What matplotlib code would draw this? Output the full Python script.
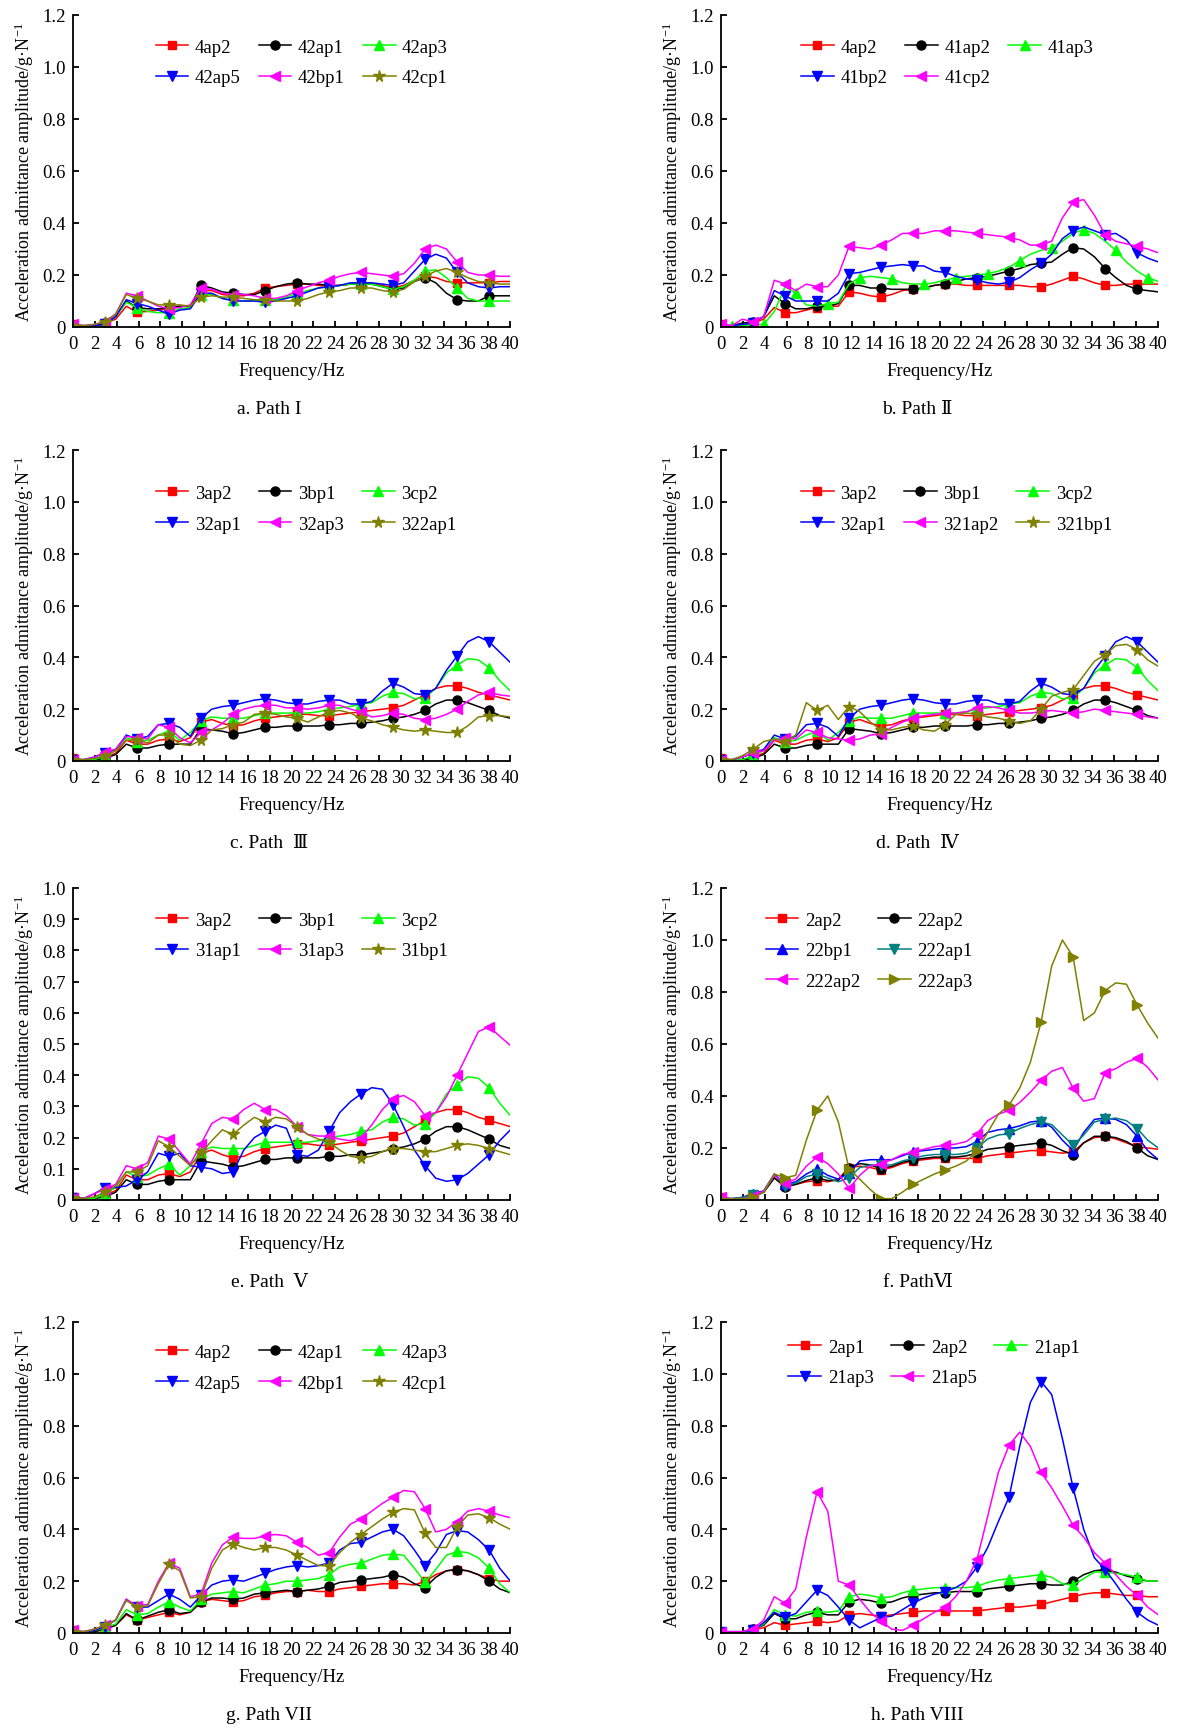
import numpy as np
import matplotlib.pyplot as plt
from matplotlib.ticker import FuncFormatter

plt.rcParams['font.family'] = ['Liberation Serif', 'DejaVu Serif', 'Noto Sans CJK SC']
plt.rcParams['mathtext.fontset'] = 'stix'

# =============================================================================
# DATA  (frequency bins ~0.977 Hz, markers on every third bin)
# =============================================================================

freq = [0.00, 0.98, 1.95, 2.93, 3.91, 4.88, 5.86, 6.84, 7.81, 8.79, 9.77, 10.74,
        11.72, 12.70, 13.67, 14.65, 15.63, 16.60, 17.58, 18.55, 19.53, 20.51,
        21.48, 22.46, 23.44, 24.41, 25.39, 26.37, 27.34, 28.32, 29.30, 30.27,
        31.25, 32.23, 33.20, 34.18, 35.16, 36.13, 37.11, 38.09, 39.06, 40.04]

x_ticks = [0, 2, 4, 6, 8, 10, 12, 14, 16, 18, 20, 22, 24, 26, 28, 30, 32, 34, 36, 38, 40]

# --- a. Path I ---
a_4ap2 = [0.01, 0.005, 0.005, 0.015, 0.03, 0.08,
          0.057, 0.06, 0.065, 0.07, 0.08, 0.08,
          0.14, 0.14, 0.125, 0.12, 0.12, 0.13,
          0.15, 0.155, 0.16, 0.165, 0.165, 0.16,
          0.155, 0.16, 0.165, 0.165, 0.165, 0.16,
          0.15, 0.16, 0.18, 0.195, 0.19, 0.175,
          0.17, 0.17, 0.17, 0.17, 0.175, 0.175]
a_42ap1 = [0.005, 0.005, 0.005, 0.015, 0.04, 0.1,
           0.075, 0.07, 0.07, 0.075, 0.08, 0.08,
           0.16, 0.15, 0.135, 0.13, 0.125, 0.125,
           0.14, 0.155, 0.165, 0.17, 0.165, 0.165,
           0.16, 0.16, 0.165, 0.165, 0.165, 0.155,
           0.145, 0.15, 0.175, 0.19, 0.17, 0.13,
           0.105, 0.1, 0.1, 0.12, 0.12, 0.12]
a_42ap3 = [0.005, 0.005, 0.005, 0.005, 0.04, 0.095,
           0.075, 0.06, 0.055, 0.055, 0.07, 0.075,
           0.125, 0.125, 0.11, 0.105, 0.1, 0.1,
           0.105, 0.105, 0.115, 0.13, 0.14, 0.15,
           0.155, 0.16, 0.165, 0.165, 0.165, 0.155,
           0.145, 0.155, 0.18, 0.215, 0.22, 0.19,
           0.15, 0.11, 0.1, 0.1, 0.1, 0.1]
a_42ap5 = [0.005, 0.005, 0.005, 0.01, 0.04, 0.105,
           0.09, 0.08, 0.065, 0.05, 0.065, 0.07,
           0.13, 0.13, 0.11, 0.1, 0.1, 0.1,
           0.095, 0.1, 0.11, 0.12, 0.135, 0.15,
           0.155, 0.16, 0.17, 0.17, 0.17, 0.165,
           0.16, 0.17, 0.215, 0.26, 0.28, 0.265,
           0.21, 0.17, 0.155, 0.15, 0.155, 0.155]
a_42bp1 = [0.01, 0.005, 0.01, 0.02, 0.05, 0.13,
           0.12, 0.1, 0.08, 0.07, 0.075, 0.085,
           0.15, 0.145, 0.13, 0.125, 0.125, 0.12,
           0.11, 0.11, 0.12, 0.14, 0.155, 0.17,
           0.18, 0.195, 0.205, 0.21, 0.205, 0.2,
           0.195, 0.205, 0.245, 0.3, 0.315, 0.3,
           0.25, 0.21, 0.2, 0.2, 0.195, 0.195]
a_42cp1 = [0.005, 0.005, 0.01, 0.02, 0.05, 0.125,
           0.11, 0.1, 0.085, 0.085, 0.085, 0.08,
           0.115, 0.12, 0.115, 0.115, 0.11, 0.105,
           0.105, 0.1, 0.1, 0.1, 0.11, 0.125,
           0.135, 0.14, 0.15, 0.15, 0.15, 0.14,
           0.135, 0.145, 0.175, 0.195, 0.215, 0.225,
           0.21, 0.19, 0.175, 0.17, 0.165, 0.165]

# --- b. Path II ---
b_4ap2 = [0.01, 0.005, 0.005, 0.015, 0.03, 0.075,
          0.055, 0.055, 0.065, 0.075, 0.08, 0.08,
          0.135, 0.13, 0.12, 0.115, 0.125, 0.14,
          0.145, 0.15, 0.16, 0.165, 0.165, 0.16,
          0.16, 0.16, 0.16, 0.16, 0.16, 0.155,
          0.155, 0.165, 0.18, 0.195, 0.185, 0.17,
          0.16, 0.16, 0.165, 0.165, 0.165, 0.165]
b_41ap2 = [0.005, 0.005, 0.015, 0.02, 0.04, 0.12,
           0.09, 0.07, 0.07, 0.08, 0.08, 0.09,
           0.16, 0.16, 0.15, 0.15, 0.145, 0.145,
           0.145, 0.15, 0.16, 0.165, 0.175, 0.185,
           0.19, 0.195, 0.205, 0.215, 0.225, 0.24,
           0.245, 0.25, 0.28, 0.305, 0.3, 0.27,
           0.225, 0.19, 0.16, 0.145, 0.14, 0.135]
b_41ap3 = [0.005, 0.005, 0.005, 0.01, 0.01, 0.06,
           0.155, 0.13, 0.085, 0.08, 0.09, 0.095,
           0.165, 0.19, 0.195, 0.19, 0.185, 0.17,
           0.165, 0.165, 0.17, 0.18, 0.19, 0.195,
           0.2, 0.205, 0.215, 0.23, 0.255, 0.28,
           0.295, 0.305, 0.33, 0.36, 0.375, 0.36,
           0.33, 0.295, 0.25, 0.215, 0.19, 0.175]
b_41bp2 = [0.005, 0.005, 0.01, 0.015, 0.04, 0.14,
           0.12, 0.1, 0.1, 0.1, 0.1, 0.13,
           0.205, 0.21, 0.22, 0.23, 0.235, 0.24,
           0.235, 0.235, 0.215, 0.21, 0.195, 0.185,
           0.18, 0.17, 0.165, 0.172, 0.19, 0.22,
           0.245, 0.28, 0.34, 0.37, 0.385, 0.37,
           0.355, 0.36, 0.335, 0.285, 0.265, 0.25]
b_41cp2 = [0.01, 0.005, 0.03, 0.02, 0.04, 0.18,
           0.165, 0.14, 0.165, 0.155, 0.155, 0.2,
           0.31, 0.305, 0.3, 0.315, 0.335, 0.36,
           0.36, 0.36, 0.37, 0.37, 0.37, 0.365,
           0.36, 0.355, 0.35, 0.345, 0.335, 0.315,
           0.315, 0.33, 0.42, 0.48, 0.49, 0.43,
           0.355, 0.33, 0.32, 0.31, 0.3, 0.285]

# --- series shared by c. Path III, d. Path IV and e. Path V ---
p3_3ap2 = [0.01, 0.005, 0.005, 0.015, 0.03, 0.08,
           0.065, 0.065, 0.08, 0.085, 0.075, 0.09,
           0.15, 0.16, 0.145, 0.135, 0.14, 0.155,
           0.165, 0.17, 0.175, 0.18, 0.18, 0.175,
           0.175, 0.18, 0.185, 0.19, 0.195, 0.2,
           0.205, 0.215, 0.235, 0.255, 0.28, 0.29,
           0.29, 0.28, 0.265, 0.255, 0.245, 0.235]
p3_3bp1 = [0.005, 0.005, 0.005, 0.01, 0.025, 0.065,
           0.05, 0.05, 0.06, 0.065, 0.065, 0.065,
           0.125, 0.12, 0.115, 0.105, 0.11, 0.12,
           0.13, 0.13, 0.135, 0.135, 0.135, 0.135,
           0.14, 0.14, 0.145, 0.145, 0.15, 0.155,
           0.165, 0.17, 0.18, 0.195, 0.22, 0.235,
           0.235, 0.225, 0.21, 0.195, 0.175, 0.165]
p3_3cp2 = [0.005, 0.005, 0.005, 0.02, 0.04, 0.09,
           0.075, 0.08, 0.1, 0.115, 0.08, 0.11,
           0.155, 0.17, 0.165, 0.165, 0.165, 0.175,
           0.185, 0.185, 0.185, 0.185, 0.185, 0.19,
           0.2, 0.205, 0.21, 0.22, 0.225, 0.25,
           0.265, 0.26, 0.24, 0.245, 0.28, 0.34,
           0.37, 0.395, 0.39, 0.36, 0.31, 0.27]
p3_32ap1 = [0.005, 0.005, 0.015, 0.03, 0.045, 0.1,
            0.085, 0.095, 0.14, 0.145, 0.13, 0.095,
            0.165, 0.2, 0.21, 0.215, 0.225, 0.235,
            0.24, 0.235, 0.225, 0.22, 0.22, 0.23,
            0.235, 0.235, 0.22, 0.22, 0.23, 0.27,
            0.3, 0.285, 0.26, 0.255, 0.28, 0.35,
            0.405, 0.46, 0.48, 0.46, 0.42, 0.38]
c_32ap3 = [0.005, 0.005, 0.015, 0.035, 0.045, 0.095,
           0.09, 0.085, 0.14, 0.13, 0.09, 0.07,
           0.11, 0.12, 0.145, 0.18, 0.2, 0.21,
           0.215, 0.215, 0.205, 0.205, 0.2, 0.205,
           0.215, 0.215, 0.2, 0.19, 0.17, 0.175,
           0.185, 0.18, 0.165, 0.16, 0.165, 0.18,
           0.2, 0.23, 0.255, 0.265, 0.255, 0.25]
c_322ap1 = [0.005, 0.005, 0.01, 0.02, 0.04, 0.08,
            0.08, 0.07, 0.1, 0.1, 0.065, 0.06,
            0.08, 0.12, 0.125, 0.14, 0.15, 0.18,
            0.185, 0.18, 0.17, 0.165, 0.15, 0.17,
            0.19, 0.195, 0.185, 0.165, 0.155, 0.14,
            0.13, 0.12, 0.115, 0.12, 0.115, 0.11,
            0.11, 0.135, 0.17, 0.175, 0.175, 0.17]

# --- d. Path IV ---
d_321ap2 = [0.005, 0.005, 0.015, 0.03, 0.04, 0.08,
            0.09, 0.085, 0.12, 0.11, 0.09, 0.085,
            0.08, 0.085, 0.1, 0.105, 0.13, 0.15,
            0.165, 0.175, 0.18, 0.185, 0.185, 0.19,
            0.205, 0.21, 0.205, 0.195, 0.185, 0.185,
            0.19, 0.195, 0.19, 0.185, 0.19, 0.2,
            0.195, 0.19, 0.185, 0.18, 0.17, 0.165]
d_321bp1 = [0.005, 0.005, 0.02, 0.045, 0.075, 0.085,
            0.075, 0.1, 0.225, 0.195, 0.215, 0.16,
            0.21, 0.19, 0.15, 0.12, 0.12, 0.13,
            0.135, 0.12, 0.115, 0.14, 0.18, 0.185,
            0.18, 0.17, 0.165, 0.155, 0.145, 0.155,
            0.2, 0.25, 0.265, 0.275, 0.33, 0.385,
            0.41, 0.445, 0.45, 0.43, 0.39, 0.365]

# --- e. Path V ---
e_31ap1 = [0.005, 0.005, 0.02, 0.04, 0.04, 0.045,
           0.065, 0.09, 0.15, 0.14, 0.15, 0.11,
           0.105, 0.1, 0.085, 0.09, 0.16, 0.2,
           0.22, 0.24, 0.23, 0.145, 0.14, 0.16,
           0.22, 0.28, 0.315, 0.34, 0.36, 0.355,
           0.305, 0.235, 0.16, 0.11, 0.07, 0.06,
           0.065, 0.085, 0.115, 0.145, 0.19, 0.225]
e_31ap3 = [0.005, 0.005, 0.02, 0.035, 0.05, 0.11,
           0.1, 0.12, 0.205, 0.195, 0.155, 0.115,
           0.18, 0.245, 0.265, 0.26, 0.29, 0.31,
           0.29, 0.29, 0.27, 0.235, 0.21, 0.205,
           0.205, 0.195, 0.19, 0.2, 0.24, 0.29,
           0.325, 0.335, 0.315, 0.27, 0.28, 0.33,
           0.4, 0.47, 0.54, 0.555, 0.525, 0.495]
e_31bp1 = [0.005, 0.005, 0.01, 0.025, 0.045, 0.09,
           0.09, 0.11, 0.19, 0.17, 0.14, 0.11,
           0.15, 0.19, 0.225, 0.21, 0.24, 0.265,
           0.25, 0.265, 0.26, 0.235, 0.21, 0.195,
           0.185, 0.16, 0.14, 0.135, 0.14, 0.155,
           0.165, 0.165, 0.16, 0.155, 0.155, 0.165,
           0.175, 0.18, 0.175, 0.165, 0.155, 0.145]

# --- f. Path VI ---
f_2ap2 = [0.01, 0.005, 0.005, 0.015, 0.03, 0.085,
          0.055, 0.06, 0.07, 0.075, 0.07, 0.08,
          0.125, 0.13, 0.125, 0.115, 0.125, 0.14,
          0.15, 0.155, 0.16, 0.16, 0.16, 0.16,
          0.16, 0.17, 0.175, 0.18, 0.185, 0.19,
          0.19, 0.185, 0.18, 0.185, 0.22, 0.24,
          0.245, 0.235, 0.22, 0.205, 0.2, 0.195]
f_22ap2 = [0.005, 0.005, 0.005, 0.015, 0.03, 0.085,
           0.05, 0.06, 0.075, 0.085, 0.075, 0.075,
           0.125, 0.14, 0.135, 0.12, 0.13, 0.145,
           0.155, 0.16, 0.165, 0.165, 0.165, 0.17,
           0.18, 0.195, 0.2, 0.205, 0.21, 0.215,
           0.22, 0.21, 0.19, 0.175, 0.22, 0.245,
           0.245, 0.24, 0.225, 0.2, 0.17, 0.155]
f_22bp1 = [0.005, 0.005, 0.01, 0.025, 0.035, 0.1,
           0.06, 0.07, 0.1, 0.12, 0.095, 0.08,
           0.105, 0.15, 0.155, 0.155, 0.155, 0.17,
           0.185, 0.19, 0.195, 0.2, 0.2, 0.205,
           0.225, 0.26, 0.27, 0.275, 0.285, 0.3,
           0.305, 0.28, 0.23, 0.19, 0.26, 0.31,
           0.315, 0.31, 0.29, 0.245, 0.19, 0.155]
f_222ap1 = [0.005, 0.005, 0.01, 0.02, 0.03, 0.095,
            0.055, 0.065, 0.09, 0.1, 0.085, 0.07,
            0.085, 0.125, 0.135, 0.135, 0.135, 0.15,
            0.16, 0.17, 0.175, 0.175, 0.175, 0.18,
            0.2, 0.235, 0.25, 0.255, 0.275, 0.29,
            0.3, 0.29, 0.25, 0.21, 0.25, 0.3,
            0.31, 0.315, 0.305, 0.275, 0.23, 0.2]
f_222ap2 = [0.01, 0.005, 0.005, 0.015, 0.035, 0.095,
            0.065, 0.08, 0.13, 0.165, 0.14, 0.1,
            0.045, 0.095, 0.13, 0.14, 0.155, 0.175,
            0.185, 0.195, 0.205, 0.21, 0.215, 0.225,
            0.255, 0.305, 0.33, 0.345, 0.375, 0.415,
            0.46, 0.495, 0.51, 0.43, 0.38, 0.39,
            0.49, 0.505, 0.53, 0.545, 0.51, 0.46]
f_222ap3 = [0.005, 0.005, 0.005, 0.01, 0.03, 0.1,
            0.085, 0.095, 0.23, 0.345, 0.4, 0.3,
            0.12, 0.08, 0.04, 0.005, 0.005, 0.03,
            0.06, 0.08, 0.1, 0.115, 0.13, 0.15,
            0.19, 0.26, 0.33, 0.365, 0.43, 0.53,
            0.685, 0.9, 1.0, 0.935, 0.69, 0.72,
            0.805, 0.835, 0.83, 0.75, 0.68, 0.62]

# --- g. Path VII ---
g_4ap2 = [0.01, 0.005, 0.005, 0.015, 0.03, 0.07,
          0.05, 0.06, 0.07, 0.08, 0.07, 0.08,
          0.12, 0.13, 0.125, 0.12, 0.125, 0.14,
          0.145, 0.155, 0.16, 0.16, 0.165, 0.16,
          0.16, 0.17, 0.175, 0.18, 0.185, 0.19,
          0.19, 0.19, 0.185, 0.2, 0.225, 0.24,
          0.245, 0.24, 0.225, 0.21, 0.2, 0.2]
g_42ap1 = [0.005, 0.005, 0.005, 0.015, 0.03, 0.075,
           0.05, 0.065, 0.08, 0.09, 0.075, 0.08,
           0.12, 0.135, 0.135, 0.13, 0.135, 0.15,
           0.155, 0.16, 0.165, 0.16, 0.165, 0.17,
           0.18, 0.195, 0.2, 0.205, 0.21, 0.215,
           0.225, 0.215, 0.19, 0.175, 0.215, 0.24,
           0.245, 0.24, 0.225, 0.2, 0.17, 0.155]
g_42ap3 = [0.005, 0.005, 0.01, 0.02, 0.035, 0.09,
           0.07, 0.075, 0.1, 0.12, 0.1, 0.085,
           0.13, 0.15, 0.155, 0.16, 0.155, 0.17,
           0.185, 0.19, 0.2, 0.2, 0.205, 0.21,
           0.225, 0.255, 0.265, 0.27, 0.285, 0.3,
           0.305, 0.3, 0.25, 0.195, 0.245, 0.3,
           0.315, 0.31, 0.29, 0.25, 0.19, 0.155]
g_42ap5 = [0.005, 0.005, 0.01, 0.025, 0.05, 0.13,
           0.1, 0.1, 0.125, 0.15, 0.13, 0.1,
           0.145, 0.185, 0.2, 0.205, 0.2, 0.215,
           0.23, 0.245, 0.255, 0.26, 0.255, 0.26,
           0.27, 0.32, 0.345, 0.35, 0.37, 0.39,
           0.4, 0.375, 0.32, 0.26, 0.31, 0.38,
           0.395, 0.39, 0.36, 0.32, 0.25, 0.2]
g_42bp1 = [0.01, 0.005, 0.015, 0.03, 0.05, 0.13,
           0.105, 0.11, 0.2, 0.27, 0.25, 0.14,
           0.15, 0.27, 0.34, 0.37, 0.365, 0.365,
           0.375, 0.38, 0.375, 0.35, 0.33, 0.3,
           0.31, 0.37, 0.42, 0.44, 0.47, 0.5,
           0.525, 0.55, 0.545, 0.48, 0.39, 0.4,
           0.43, 0.47, 0.48, 0.47, 0.455, 0.445]
g_42cp1 = [0.005, 0.005, 0.015, 0.03, 0.05, 0.125,
           0.1, 0.105, 0.19, 0.265, 0.24, 0.135,
           0.14, 0.25, 0.32, 0.345, 0.33, 0.32,
           0.33, 0.33, 0.32, 0.3, 0.28, 0.26,
           0.26, 0.31, 0.35, 0.38, 0.41, 0.44,
           0.465, 0.48, 0.475, 0.385, 0.33, 0.33,
           0.41, 0.455, 0.46, 0.445, 0.42, 0.4]

# --- h. Path VIII ---
h_2ap1 = [0.005, 0.005, 0.005, 0.015, 0.02, 0.04,
          0.03, 0.035, 0.04, 0.045, 0.04, 0.045,
          0.07, 0.075, 0.07, 0.065, 0.07, 0.075,
          0.08, 0.085, 0.085, 0.085, 0.085, 0.085,
          0.085, 0.09, 0.095, 0.1, 0.1, 0.105,
          0.11, 0.12, 0.13, 0.14, 0.15, 0.155,
          0.155, 0.15, 0.145, 0.145, 0.14, 0.14]
h_2ap2 = [0.005, 0.005, 0.005, 0.015, 0.03, 0.075,
          0.055, 0.055, 0.07, 0.08, 0.07, 0.07,
          0.12, 0.13, 0.125, 0.115, 0.12, 0.135,
          0.145, 0.15, 0.155, 0.155, 0.16, 0.16,
          0.16, 0.17, 0.175, 0.18, 0.185, 0.19,
          0.19, 0.185, 0.185, 0.2, 0.225, 0.24,
          0.245, 0.235, 0.22, 0.21, 0.2, 0.2]
h_21ap1 = [0.005, 0.005, 0.005, 0.01, 0.035, 0.09,
           0.07, 0.065, 0.08, 0.085, 0.08, 0.085,
           0.14, 0.15, 0.145, 0.135, 0.14, 0.155,
           0.165, 0.17, 0.175, 0.175, 0.175, 0.175,
           0.18, 0.195, 0.205, 0.21, 0.215, 0.22,
           0.225, 0.215, 0.19, 0.185, 0.21, 0.235,
           0.235, 0.23, 0.225, 0.215, 0.2, 0.2]
h_21ap3 = [0.005, 0.005, 0.005, 0.01, 0.04, 0.08,
           0.06, 0.075, 0.12, 0.165, 0.145, 0.1,
           0.05, 0.02, 0.04, 0.06, 0.065, 0.09,
           0.115, 0.135, 0.15, 0.16, 0.175, 0.2,
           0.255, 0.33, 0.43, 0.525, 0.72, 0.89,
           0.97, 0.92, 0.75, 0.56, 0.4, 0.29,
           0.245, 0.19, 0.13, 0.08, 0.05, 0.03]
h_21ap5 = [0.005, 0.005, 0.005, 0.015, 0.05, 0.14,
           0.115, 0.17, 0.37, 0.545, 0.47, 0.2,
           0.185, 0.13, 0.08, 0.045, 0.015, 0.01,
           0.03, 0.055, 0.08, 0.1, 0.14, 0.2,
           0.285, 0.45, 0.62, 0.725, 0.775, 0.72,
           0.62, 0.56, 0.49, 0.415, 0.37, 0.31,
           0.27, 0.225, 0.18, 0.145, 0.1, 0.07]

# =============================================================================
# STYLES AND PANELS
# =============================================================================

estilos = {
    'red': ('#ff0000', 's', 6.0),
    'black': ('#000000', 'o', 6.5),
    'green': ('#00ff00', '^', 6.5),
    'blue': ('#0000ff', 'v', 6.5),
    'magenta': ('#ff00ff', '<', 6.5),
    'olive': ('#808000', '*', 8.5),
    'blue_up': ('#0000ff', '^', 6.5),
    'teal': ('#008080', 'v', 6.5),
    'olive_right': ('#808000', '>', 6.5),
}

paneles = [
    dict(caption='a. Path I', ymax=1.2, ystep=0.2, ncol=3, leg=(0.189, 0.925),
         series=[('4ap2', a_4ap2, 'red', 0), ('42ap1', a_42ap1, 'black', 0),
                 ('42ap3', a_42ap3, 'green', 0), ('42ap5', a_42ap5, 'blue', 0),
                 ('42bp1', a_42bp1, 'magenta', 0), ('42cp1', a_42cp1, 'olive', 0)]),
    dict(caption='b. Path Ⅱ', ymax=1.2, ystep=0.2, ncol=3, leg=(0.183, 0.925),
         series=[('4ap2', b_4ap2, 'red', 0), ('41ap2', b_41ap2, 'black', 0),
                 ('41ap3', b_41ap3, 'green', 1), ('41bp2', b_41bp2, 'blue', 0),
                 ('41cp2', b_41cp2, 'magenta', 0)]),
    dict(caption='c. Path  Ⅲ', ymax=1.2, ystep=0.2, ncol=3, leg=(0.189, 0.888),
         series=[('3ap2', p3_3ap2, 'red', 0), ('3bp1', p3_3bp1, 'black', 0),
                 ('3cp2', p3_3cp2, 'green', 0), ('32ap1', p3_32ap1, 'blue', 0),
                 ('32ap3', c_32ap3, 'magenta', 0), ('322ap1', c_322ap1, 'olive', 0)]),
    dict(caption='d. Path  Ⅳ', ymax=1.2, ystep=0.2, ncol=3, leg=(0.183, 0.888),
         series=[('3ap2', p3_3ap2, 'red', 0), ('3bp1', p3_3bp1, 'black', 0),
                 ('3cp2', p3_3cp2, 'green', 0), ('32ap1', p3_32ap1, 'blue', 0),
                 ('321ap2', d_321ap2, 'magenta', 0), ('321bp1', d_321bp1, 'olive', 0)]),
    dict(caption='e. Path  Ⅴ', ymax=1.0, ystep=0.1, ncol=3, leg=(0.189, 0.925),
         series=[('3ap2', p3_3ap2, 'red', 0), ('3bp1', p3_3bp1, 'black', 0),
                 ('3cp2', p3_3cp2, 'green', 0), ('31ap1', e_31ap1, 'blue', 0),
                 ('31ap3', e_31ap3, 'magenta', 0), ('31bp1', e_31bp1, 'olive', 0)]),
    dict(caption='f. PathⅥ', ymax=1.2, ystep=0.2, ncol=2, leg=(0.102, 0.925),
         series=[('2ap2', f_2ap2, 'red', 0), ('22ap2', f_22ap2, 'black', 0),
                 ('22bp1', f_22bp1, 'blue_up', 0), ('222ap1', f_222ap1, 'teal', 0),
                 ('222ap2', f_222ap2, 'magenta', 0), ('222ap3', f_222ap3, 'olive_right', 0)]),
    dict(caption='g. Path VII', ymax=1.2, ystep=0.2, ncol=3, leg=(0.189, 0.93),
         series=[('4ap2', g_4ap2, 'red', 0), ('42ap1', g_42ap1, 'black', 0),
                 ('42ap3', g_42ap3, 'green', 0), ('42ap5', g_42ap5, 'blue', 0),
                 ('42bp1', g_42bp1, 'magenta', 0), ('42cp1', g_42cp1, 'olive', 0)]),
    dict(caption='h. Path VIII', ymax=1.2, ystep=0.2, ncol=3, leg=(0.154, 0.947),
         series=[('2ap1', h_2ap1, 'red', 0), ('2ap2', h_2ap2, 'black', 0),
                 ('21ap1', h_21ap1, 'green', 0), ('21ap3', h_21ap3, 'blue', 0),
                 ('21ap5', h_21ap5, 'magenta', 0)]),
]

# =============================================================================
# HELPERS
# =============================================================================

def orden_por_filas(items, ncol):
    """Reorder so a column-filled legend reads row by row."""
    n = len(items)
    nrow = -(-n // ncol)
    orden = []
    for c in range(ncol):
        for r in range(nrow):
            i = r * ncol + c
            if i < n:
                orden.append(items[i])
    return orden


def dibujar_panel(ax, panel):
    handles = []
    for label, valores, estilo, offset in panel['series']:
        color, marker, ms = estilos[estilo]
        h, = ax.plot(freq, valores, color=color, lw=1.1, marker=marker, ms=ms,
                     mfc=color, mec=color, markevery=(offset, 3), label=label)
        handles.append(h)

    ax.set_xlim(0, 40)
    ax.set_ylim(0, panel['ymax'])
    ax.set_xticks(x_ticks)
    ax.set_yticks(np.arange(0, panel['ymax'] + 1e-6, panel['ystep']))
    ax.yaxis.set_major_formatter(FuncFormatter(lambda v, p: '0' if abs(v) < 1e-9 else f'{v:.1f}'))

    for s in ('top', 'right'):
        ax.spines[s].set_visible(False)
    for s in ('left', 'bottom'):
        ax.spines[s].set_linewidth(1.3)
    ax.tick_params(direction='in', length=4, width=1.3, labelsize=13.5)
    ax.tick_params(axis='x', pad=6)
    ax.tick_params(axis='y', pad=5)

    ax.set_xlabel('Frequency/Hz', fontsize=13.5, labelpad=7)
    ax.set_ylabel(r'Acceleration admittance amplitude/g·N$^{\mathregular{-1}}$',
                  fontsize=13, labelpad=5)

    ordenados = orden_por_filas(handles, panel['ncol'])
    ax.legend(ordenados, [h.get_label() for h in ordenados], ncol=panel['ncol'],
              loc='upper left', bbox_to_anchor=panel['leg'], frameon=False,
              fontsize=13.5, numpoints=1, handlelength=1.75, handletextpad=0.35,
              columnspacing=0.95, labelspacing=0.72, borderpad=0, borderaxespad=0)

# =============================================================================
# FIGURE
# =============================================================================

FIG_W, FIG_H = 1186, 1733
COL_X = [73, 721]
AX_W = 437
ROWS = [(16, 328), (451, 762), (889, 1201), (1323, 1634)]

fig = plt.figure(figsize=(FIG_W / 100, FIG_H / 100), dpi=100)

for i, panel in enumerate(paneles):
    fila, col = divmod(i, 2)
    top, bottom = ROWS[fila]
    rect = [COL_X[col] / FIG_W, 1 - bottom / FIG_H, AX_W / FIG_W, (bottom - top) / FIG_H]
    ax = fig.add_axes(rect)
    dibujar_panel(ax, panel)
    cx = (COL_X[col] + AX_W / 2 - 22) / FIG_W
    cy = 1 - (bottom + 82) / FIG_H
    fig.text(cx, cy, panel['caption'], ha='center', va='center', fontsize=14)

fig.savefig('out.png', dpi=100)
